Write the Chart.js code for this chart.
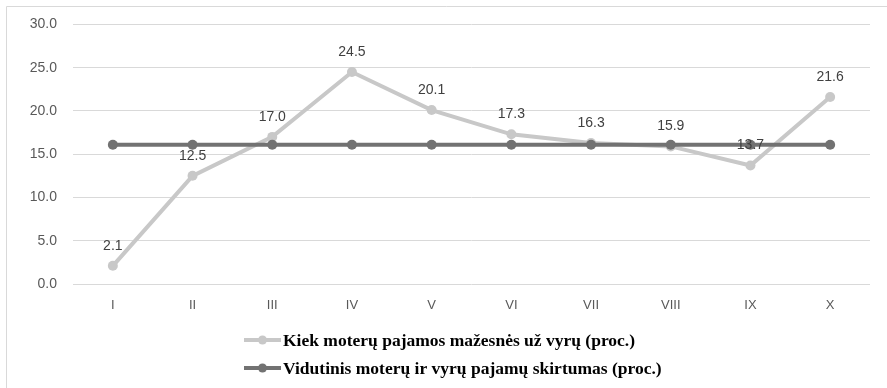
<!DOCTYPE html>
<html>
<head>
<meta charset="utf-8">
<script src="https://cdn.jsdelivr.net/npm/chart.js@4/dist/chart.umd.min.js"></script>
<style>
  html, body { margin: 0; padding: 0; background: #fff; }
  #wrap { width: 887px; height: 388px; position: relative; }
</style>
</head>
<body>
<div id="wrap"><canvas id="c" width="887" height="388"></canvas></div>
<script>
// Months (roman numerals)
const months = ['I', 'II', 'III', 'IV', 'V', 'VI', 'VII', 'VIII', 'IX', 'X'];
// How much lower women's income is than men's, per month (%)
const gapByMonth = [2.1, 12.5, 17.0, 24.5, 20.1, 17.3, 16.3, 15.9, 13.7, 21.6];
// Average income gap between women and men (%)
const averageGap = [16.1, 16.1, 16.1, 16.1, 16.1, 16.1, 16.1, 16.1, 16.1, 16.1];
// Y axis ticks
const yTicks = [0, 5, 10, 15, 20, 25, 30];

const seriesNames = [
  'Kiek moterų pajamos mažesnės už vyrų (proc.)',
  'Vidutinis moterų ir vyrų pajamų skirtumas (proc.)'
];
const LIGHT = '#c8c8c8';
const DARK = '#727272';

const frame = {
  id: 'frame',
  beforeDraw(chart) {
    const ctx = chart.ctx;
    ctx.save();
    ctx.strokeStyle = '#d9d9d9';
    ctx.lineWidth = 1;
    ctx.beginPath();
    ctx.moveTo(6.5, chart.height);
    ctx.lineTo(6.5, 6.5);
    ctx.lineTo(chart.width, 6.5);
    ctx.stroke();
    ctx.restore();
  }
};

const valueLabels = {
  id: 'valueLabels',
  afterDatasetsDraw(chart) {
    const ctx = chart.ctx;
    const meta = chart.getDatasetMeta(0);
    ctx.save();
    ctx.font = '14px "Liberation Sans", Arial, sans-serif';
    ctx.fillStyle = '#404040';
    ctx.textAlign = 'center';
    ctx.textBaseline = 'middle';
    meta.data.forEach((pt, i) => {
      ctx.fillText(gapByMonth[i].toFixed(1), pt.x, pt.y - 20);
    });
    ctx.restore();
  }
};

const serifLegend = {
  id: 'serifLegend',
  afterDraw(chart) {
    const ctx = chart.ctx;
    const colors = [LIGHT, DARK];
    const rows = [340, 368];
    ctx.save();
    ctx.font = 'bold 17.5px "Liberation Serif", "Times New Roman", serif';
    ctx.textBaseline = 'middle';
    ctx.textAlign = 'left';
    seriesNames.forEach((name, i) => {
      const y = rows[i];
      ctx.strokeStyle = colors[i];
      ctx.lineWidth = 4;
      ctx.beginPath();
      ctx.moveTo(244, y);
      ctx.lineTo(281, y);
      ctx.stroke();
      ctx.fillStyle = colors[i];
      ctx.beginPath();
      ctx.arc(262.5, y, 4.5, 0, Math.PI * 2);
      ctx.fill();
      ctx.fillStyle = '#000';
      ctx.fillText(name, 283, y + 1);
    });
    ctx.restore();
  }
};

new Chart(document.getElementById('c'), {
  type: 'line',
  data: {
    labels: months,
    datasets: [
      {
        label: seriesNames[0],
        data: gapByMonth,
        borderColor: LIGHT,
        backgroundColor: LIGHT,
        borderWidth: 4,
        pointRadius: 5,
        pointHoverRadius: 5,
        pointBorderWidth: 0,
        tension: 0,
        order: 1
      },
      {
        label: seriesNames[1],
        data: averageGap,
        borderColor: DARK,
        backgroundColor: DARK,
        borderWidth: 4,
        pointRadius: 5,
        pointHoverRadius: 5,
        pointBorderWidth: 0,
        tension: 0,
        order: 0
      }
    ]
  },
  options: {
    responsive: false,
    animation: false,
    layout: { padding: { left: 0, top: 24, right: 17, bottom: 69 } },
    plugins: {
      legend: { display: false },
      tooltip: { enabled: false }
    },
    scales: {
      x: {
        offset: true,
        grid: { display: false, drawTicks: false },
        border: { display: false },
        ticks: {
          color: '#595959',
          font: { family: '"Liberation Sans", Arial, sans-serif', size: 13 },
          padding: 14,
          maxRotation: 0
        },
        afterFit(scale) { scale.height = 35; }
      },
      y: {
        min: 0,
        max: 30,
        afterBuildTicks(scale) { scale.ticks = yTicks.map(v => ({ value: v })); },
        grid: { color: '#d9d9d9', lineWidth: 1, drawTicks: false },
        border: { display: false },
        ticks: {
          color: '#595959',
          font: { family: '"Liberation Sans", Arial, sans-serif', size: 14 },
          padding: 16,
          callback: v => Number(v).toFixed(1)
        },
        afterFit(scale) { scale.width = 73; }
      }
    }
  },
  plugins: [frame, valueLabels, serifLegend]
});
</script>
</body>
</html>
